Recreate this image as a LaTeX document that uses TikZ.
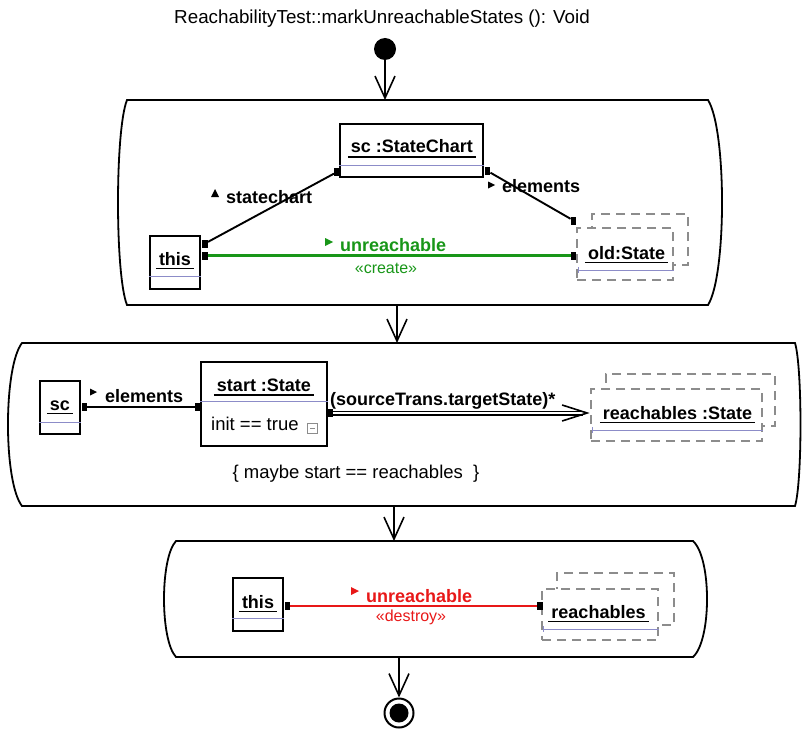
\documentclass[tikz,border=0pt]{standalone}
\usepackage{fontspec}
\setmainfont{Liberation Sans}
\usetikzlibrary{arrows.meta}
\definecolor{linkgreen}{RGB}{24,150,24}
\definecolor{linkred}{RGB}{232,24,24}
\definecolor{dgray}{RGB}{140,140,140}
\definecolor{sepblue}{RGB}{140,140,200}
\begin{document}
\begin{tikzpicture}[x=1pt,y=-1pt,
  objbox/.style={draw=black, line width=1.4pt, fill=white, inner sep=0pt},
  dashbox/.style={draw=dgray, line width=1.8pt, dash pattern=on 9pt off 6pt, fill=white, inner sep=0pt},
  sq/.style={fill=black, minimum width=5.5pt, minimum height=8pt, inner sep=0pt},
  lbl/.style={font=\fontsize{18}{20}\selectfont\bfseries, inner sep=0pt, anchor=base},
  txt/.style={font=\fontsize{18.5}{20}\selectfont, inner sep=0pt, anchor=base},
  stereo/.style={font=\fontsize{16}{18}\selectfont, inner sep=0pt, anchor=base},
  link/.style={line width=1.9pt},
  ul/.style={line width=1.8pt},
  sep/.style={draw=sepblue, line width=1pt},
  flow/.style={line width=1.6pt, -{Straight Barb[length=22pt,width=20pt]}},
  act/.style={line width=1.8pt},
]
\useasboundingbox (0,0) rectangle (802,746);

% title
\node[txt, font=\fontsize{18.8}{20}\selectfont] (title) at (382,24) {ReachabilityTest::markUnreachableStates (): Void};

% initial node
\node[circle, fill=black, minimum size=22pt, inner sep=0pt] (init) at (385,49) {};

% activities
\draw[act] (127,100) -- (708,100) .. controls (726.7,130) and (726.7,275) .. (708,305)
  -- (127,305) .. controls (115,275) and (115,130) .. (127,100) -- cycle;
\draw[act] (22,343) -- (795,343) .. controls (802.3,367) and (802.3,482) .. (795,506)
  -- (22,506) .. controls (3.3,482) and (3.3,367) .. (22,343) -- cycle;
\draw[act] (176,541) -- (693,541) .. controls (711.7,558) and (711.7,640) .. (693,657)
  -- (176,657) .. controls (160,640) and (160,558) .. (176,541) -- cycle;

\coordinate (a1top) at (385,100);
\coordinate (a1bot) at (397,305);
\coordinate (a2top) at (397,343);
\coordinate (a2bot) at (394,506);
\coordinate (a3top) at (394,541);
\coordinate (a3bot) at (399,657);

% final node
\node[circle, draw=black, line width=2pt, minimum size=29pt, inner sep=0pt] (final) at (399,713) {};
\fill[black] (final.center) circle (9.5pt);

\draw[flow] (init) -- (a1top);
\draw[flow] (a1bot) -- (a2top);
\draw[flow] (a2bot) -- (a3top);
\draw[flow] (a3bot) -- (final.north);

% ---------- activity 1 ----------
\node[objbox, minimum width=143pt, minimum height=53pt] (sc1) at (411.5,150.5) {};
\node[lbl] (sc1t) at (412,153) {sc :StateChart};
\draw[ul] ([shift={(-3,4)}]sc1t.base west) -- ([shift={(3,4)}]sc1t.base east);
\draw[sep] (sc1.west |- 0,166) -- (sc1.east |- 0,166);

\node[objbox, minimum width=50pt, minimum height=53pt] (this1) at (175,262.5) {};
\node[lbl] (this1t) at (175,265) {this};
\draw[ul] ([shift={(-3,3.5)}]this1t.base west) -- ([shift={(3,3.5)}]this1t.base east);
\draw[sep] (this1.west |- 0,276) -- (this1.east |- 0,276);

\node[dashbox, minimum width=96pt, minimum height=51pt] (old1b) at (640,239.5) {};
\node[dashbox, minimum width=96pt, minimum height=52pt] (old1) at (625,254) {};
\node[lbl] (old1t) at (626.5,259) {old:State};
\draw[ul] ([shift={(-3,3.5)}]old1t.base west) -- ([shift={(3,3.5)}]old1t.base east);
\draw[sep] ([xshift=2pt]old1.west |- 0,270) -- (old1.east |- 0,270);
\draw[sep] ([xshift=2pt]old1.west |- 0,267) -- ([xshift=2pt]old1.west |- 0,273);

\node[sq] (s1a) at (205,243.5) {};
\node[sq] (s1b) at (337,172) {};
\draw[link, color=black] (s1a) -- (s1b);
\node[sq] (s1c) at (487.5,171) {};
\node[sq] (s1d) at (573.5,220.5) {};
\draw[link, color=black] (s1c) -- (s1d);
\node[sq] (s1e) at (205,255.5) {};
\node[sq] (s1f) at (573.5,255.5) {};
\draw[line width=2.1pt, color=linkgreen] (s1e.east) -- (s1f.west);

\fill[black] (211,197) -- (215,189) -- (219,197) -- cycle;
\node[lbl, anchor=base west] (lsc) at (226,203) {statechart};
\fill[black] (488,181.5) -- (495,185) -- (488,188.5) -- cycle;
\node[lbl, anchor=base west] (lel1) at (502,193) {elements};
\fill[linkgreen] (325,238) -- (333,242) -- (325,246) -- cycle;
\node[lbl, anchor=base west, text=linkgreen] (lun1) at (340,251) {unreachable};
\node[stereo, text=linkgreen] (lcr) at (386,273) {«create»};

% ---------- activity 2 ----------
\node[objbox, minimum width=40pt, minimum height=53pt] (sc2) at (60,407.5) {};
\node[lbl] (sc2t) at (60,410) {sc};
\draw[ul] ([shift={(-3,3.5)}]sc2t.base west) -- ([shift={(3,3.5)}]sc2t.base east);
\draw[sep] (sc2.west |- 0,422) -- (sc2.east |- 0,422);

\node[objbox, minimum width=126pt, minimum height=84pt] (st2) at (264,404) {};
\node[lbl] (st2t) at (264,391) {start :State};
\draw[ul] ([shift={(-3,4)}]st2t.base west) -- ([shift={(3,4)}]st2t.base east);
\draw[sep] (st2.west |- 0,401) -- (st2.east |- 0,401);
\node[txt, anchor=base west] (st2c) at (211,430) {init == true};
\node[draw=dgray, line width=1pt, minimum width=10pt, minimum height=10pt, inner sep=0pt] (icon) at (312.5,428) {};
\draw[dgray, line width=1pt] ([xshift=-2.5pt]icon.center) -- ([xshift=2.5pt]icon.center);

\node[sq] (s2a) at (84.5,407) {};
\node[sq] (s2b) at (197.5,407) {};
\draw[link, color=black] (s2a) -- (s2b);
\fill[black] (90,388.5) -- (97,392) -- (90,395.5) -- cycle;
\node[lbl, anchor=base west] (lel2) at (105,402) {elements};

\node[dashbox, minimum width=169pt, minimum height=52pt] (r2b) at (690.5,400) {};
\node[dashbox, minimum width=171pt, minimum height=52pt] (r2) at (676.5,415) {};
\node[lbl] (r2t) at (677.5,419) {reachables :State};
\draw[ul] ([shift={(-3,3.5)}]r2t.base west) -- ([shift={(3,3.5)}]r2t.base east);
\draw[sep] ([xshift=2pt]r2.west |- 0,430) -- (r2.east |- 0,430);
\draw[sep] ([xshift=2pt]r2.west |- 0,427) -- ([xshift=2pt]r2.west |- 0,433);

\node[sq] (s2c) at (330,413) {};
\coordinate (ptip) at ([xshift=-3pt]r2.west |- s2c.center);
\draw[line width=1.3pt, double, double distance=2.4pt] (s2c.east) -- ([xshift=-4pt]ptip);
\draw[line width=1.6pt] ([shift={(-25,-8)}]ptip) -- (ptip) -- ([shift={(-25,8)}]ptip);
\node[lbl, anchor=base west] (lpath) at (330,405) {(sourceTrans.targetState)*};

\node[txt] (cons) at (356,478) {\{ maybe start == reachables\ \ \}};

% ---------- activity 3 ----------
\node[objbox, minimum width=50pt, minimum height=53pt] (this3) at (258,604.5) {};
\node[lbl] (this3t) at (258,608) {this};
\draw[ul] ([shift={(-3,3.5)}]this3t.base west) -- ([shift={(3,3.5)}]this3t.base east);
\draw[sep] (this3.west |- 0,618) -- (this3.east |- 0,618);

\node[dashbox, minimum width=117pt, minimum height=52pt] (r3b) at (615.5,599) {};
\node[dashbox, minimum width=116pt, minimum height=51pt] (r3) at (600,614.5) {};
\node[lbl] (r3t) at (598.5,618) {reachables};
\draw[ul] ([shift={(-3,3.5)}]r3t.base west) -- ([shift={(3,3.5)}]r3t.base east);
\draw[sep] ([xshift=2pt]r3.west |- 0,629) -- (r3.east |- 0,629);
\draw[sep] ([xshift=2pt]r3.west |- 0,626) -- ([xshift=2pt]r3.west |- 0,632);

\node[sq] (s3a) at (287.5,606) {};
\node[sq] (s3b) at (540,606) {};
\draw[line width=2.1pt, color=linkred] (s3a.east) -- (s3b.west);
\fill[linkred] (351,587) -- (359,591) -- (351,595) -- cycle;
\node[lbl, anchor=base west, text=linkred] (lun3) at (366,602) {unreachable};
\node[stereo, text=linkred] (lde) at (411,621) {«destroy»};
\end{tikzpicture}
\end{document}
